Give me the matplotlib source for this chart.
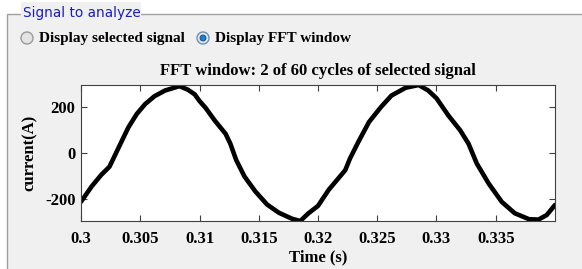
import matplotlib
matplotlib.use("Agg")
import matplotlib.pyplot as plt
from matplotlib.patches import Circle, Rectangle

plt.rcParams["axes.unicode_minus"] = False

# waveform: time (s), current (A)
t = [0.3000, 0.3009, 0.3017, 0.3024, 0.3028, 0.3034, 0.3040, 0.3047, 0.3054,
     0.3062, 0.3071, 0.3083, 0.3090, 0.3096, 0.3100, 0.3105, 0.3113, 0.3122,
     0.3126, 0.3131, 0.3138, 0.3147, 0.3157, 0.3167, 0.3178, 0.3185, 0.3192,
     0.3200, 0.3209, 0.3223, 0.3227, 0.3234, 0.3243, 0.3253, 0.3262, 0.3274,
     0.3285, 0.3293, 0.3300, 0.3310, 0.3320, 0.3327, 0.3334, 0.3344, 0.3355,
     0.3366, 0.3378, 0.3386, 0.3393, 0.3400]
current = [-212, -145, -95, -59, -16, 49, 113, 171, 214,
           249, 274, 293, 278, 257, 228, 199, 142, 85,
           42, -30, -102, -166, -224, -260, -286, -296, -262,
           -230, -160, -74, -23, 49, 136, 201, 252, 286,
           298, 274, 240, 165, 100, 42, -45, -132, -212,
           -262, -288, -290, -270, -226]

xticks = [0.3, 0.305, 0.31, 0.315, 0.32, 0.325, 0.33, 0.335]
xticklabels = ["0.3", "0.305", "0.31", "0.315", "0.32", "0.325", "0.33", "0.335"]
yticks = [-200, 0, 200]

title = "FFT window: 2 of 60 cycles of selected signal"
radio_labels = ["Display selected signal", "Display FFT window"]

W, H = 582, 269
serif = "Liberation Serif"

fig = plt.figure(figsize=(W / 100, H / 100), dpi=100, facecolor="white")

# panel drawn in pixel coordinates
ui = fig.add_axes([0, 0, 1, 1], zorder=0)
ui.set_xlim(0, W)
ui.set_ylim(H, 0)
ui.axis("off")
ui.add_patch(Rectangle((7, 14), W, H, facecolor="#f0f0f0", edgecolor="#a0a0a0", lw=1))
ui.add_patch(Rectangle((21, 2), 120, 20, facecolor="#f0f0f0", edgecolor="none"))
ui.text(23, 13, "Signal to analyze", color="#1a1ac8", fontsize=9.8,
        family="DejaVu Sans", va="center", ha="left")

# radio buttons
ui.add_patch(Circle((27, 38), 6, facecolor="#e4e4e4", edgecolor="#9a9a9a", lw=1))
ui.add_patch(Circle((203, 38), 6, facecolor="#dfe9f3", edgecolor="#6f8fb0", lw=1))
ui.add_patch(Circle((203, 38), 3, facecolor="#1f7fc8", edgecolor="#104a80", lw=0.6))
ui.text(39, 38.5, radio_labels[0], family=serif, weight="bold", fontsize=11,
        va="center", ha="left")
ui.text(215, 38.5, radio_labels[1], family=serif, weight="bold", fontsize=11,
        va="center", ha="left")

# signal plot
ax = fig.add_axes([81 / W, 1 - 221 / H, (555 - 81) / W, (221 - 85) / H], zorder=1)
ax.set_facecolor("white")
ax.plot(t, current, color="black", lw=3.3, solid_joinstyle="round",
        solid_capstyle="round")
ax.set_xlim(0.3, 0.34)
ax.set_ylim(-296, 298)
ax.set_xticks(xticks)
ax.set_xticklabels(xticklabels)
ax.set_yticks(yticks)
ax.tick_params(direction="in", top=True, right=True, length=4, width=0.8,
               colors="#404040", labelcolor="black")
ax.tick_params(axis="x", pad=7)
ax.tick_params(axis="y", pad=4)
for lab in ax.get_xticklabels() + ax.get_yticklabels():
    lab.set_family(serif)
    lab.set_weight("bold")
    lab.set_fontsize(12)
for sp in ax.spines.values():
    sp.set_color("#404040")
    sp.set_linewidth(0.8)

ax.set_title(title, family=serif, weight="bold", fontsize=12, pad=7)
ax.set_xlabel("Time (s)", family=serif, weight="bold", fontsize=12, labelpad=2)
ax.set_ylabel("current(A)", family=serif, weight="bold", fontsize=12, labelpad=5)

fig.savefig("out.png", dpi=100, facecolor=fig.get_facecolor())
